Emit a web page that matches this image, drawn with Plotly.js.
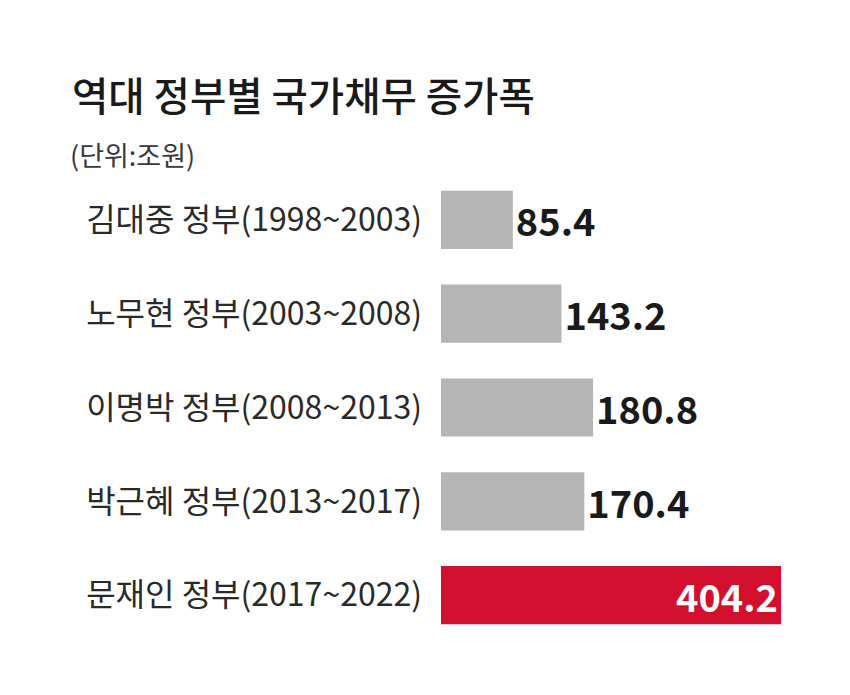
<!DOCTYPE html>
<html>
<head>
<meta charset="utf-8">
<script src="https://cdn.plot.ly/plotly-3.0.1.min.js"></script>
<style>html,body{margin:0;padding:0;background:#fff;}#chart{width:850px;height:695px;}</style>
</head>
<body>
<div id="chart"></div>
<script>
const categories = ["김대중 정부(1998~2003)", "노무현 정부(2003~2008)", "이명박 정부(2008~2013)", "박근혜 정부(2013~2017)", "문재인 정부(2017~2022)"];
const values = [85.4, 143.2, 180.8, 170.4, 404.2];
const valueLabels = ["85.4", "143.2", "180.8", "170.4", "404.2"];
const barColors = ["#b5b5b5", "#b5b5b5", "#b5b5b5", "#b5b5b5", "#d20f2d"];
const labelColors = ["#1a1a1a", "#1a1a1a", "#1a1a1a", "#1a1a1a", "#ffffff"];
const labelPositions = ["outside", "outside", "outside", "outside", "inside"];
const titleText = "역대 정부별 국가채무 증가폭";
const unitText = "(단위:조원)";

const FONT = "'Noto Sans CJK KR', 'Noto Sans', sans-serif";

const trace = {
  type: "bar",
  orientation: "h",
  y: categories,
  x: values,
  text: valueLabels,
  texttemplate: "%{text}",
  textposition: labelPositions,
  insidetextanchor: "end",
  textfont: {family: FONT, size: 38, color: labelColors, weight: 700},
  outsidetextfont: {family: FONT, size: 38, color: "#1a1a1a", weight: 700},
  insidetextfont: {family: FONT, size: 38, color: "#ffffff", weight: 700},
  constraintext: "none",
  cliponaxis: false,
  marker: {color: barColors, line: {width: 0}},
  hoverinfo: "none"
};

const layout = {
  width: 850,
  height: 695,
  margin: {l: 441, r: 69, t: 173, b: 53},
  paper_bgcolor: "#ffffff",
  plot_bgcolor: "#ffffff",
  bargap: 0.38,
  showlegend: false,
  title: {
    text: titleText,
    xref: "container", yref: "container",
    x: 72/850, xanchor: "left",
    y: 1 - 97/695, yanchor: "middle",
    font: {family: FONT, size: 39.5, color: "#1a1a1a", weight: 500}
  },
  xaxis: {
    range: [0, 404.2],
    showgrid: false, zeroline: false, showline: false,
    showticklabels: false, ticks: "", fixedrange: true
  },
  yaxis: {
    autorange: "reversed",
    showgrid: false, zeroline: false, showline: false,
    ticks: "",
    ticklabelstandoff: 18,
    tickfont: {family: FONT, size: 32, color: "#2a2a2a"},
    fixedrange: true
  },
  annotations: [{
    text: unitText,
    xref: "paper", yref: "paper",
    x: (68 - 441) / 340, y: (642 - 155) / 469,
    xanchor: "left", yanchor: "middle",
    showarrow: false,
    font: {family: FONT, size: 27, color: "#3a3a3a"}
  }]
};

Plotly.newPlot("chart", [trace], layout, {displayModeBar: false, staticPlot: true});
</script>
</body>
</html>
